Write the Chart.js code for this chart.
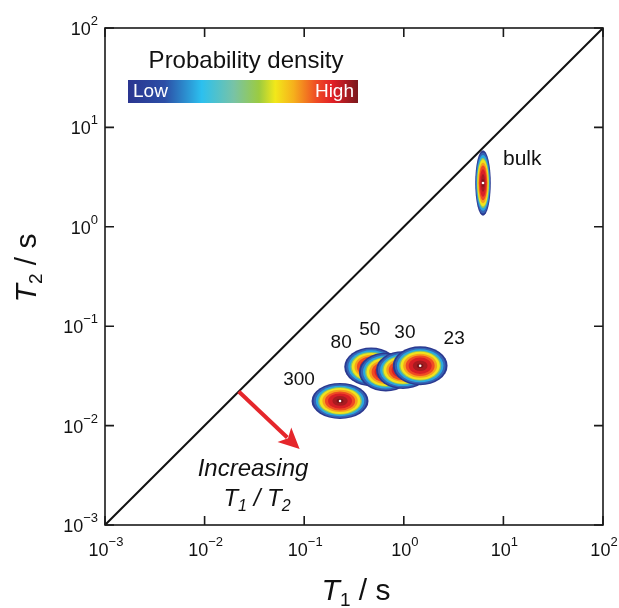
<!DOCTYPE html>
<html>
<head>
<meta charset="utf-8">
<script src="https://cdn.jsdelivr.net/npm/chart.js@4/dist/chart.umd.min.js"></script>
<style>
  html, body { margin: 0; padding: 0; background: #fff; }
  #wrap { width: 619px; height: 608px; }
</style>
</head>
<body>
<div id="wrap"><canvas id="c" width="619" height="608"></canvas></div>
<script>
// Axis range (seconds) and decade tick exponents
const axisMin = 1e-3;
const axisMax = 1e2;
const tickExponents = [-3, -2, -1, 0, 1, 2];

// Relaxation-time distributions: sample label, peak T1 / T2 (s),
// and half-width of each distribution in decades (T1, T2)
const samples  = ['80', '50', '30', '23', '300', 'bulk'];
const t1Peak   = [0.47, 0.66, 0.98, 1.46, 0.229, 6.24];
const t2Peak   = [0.039, 0.0346, 0.0362, 0.040, 0.0177, 2.76];
const t1Spread = [0.27, 0.27, 0.27, 0.275, 0.286, 0.078];
const t2Spread = [0.195, 0.195, 0.19, 0.195, 0.181, 0.33];

// T1 = T2 reference line
const unityT = [1e-3, 1e2];

// Arrow pointing toward increasing T1/T2
const arrowT1 = [0.022, 0.09];
const arrowT2 = [0.022, 0.0058];

// ---- styling ----
const FONT = '"Liberation Sans", Arial, Helvetica, sans-serif';
const bandColors = ['#2b3990', '#3563b5', '#2aa8df', '#86c56a', '#f1e41c', '#f7a11c', '#ef4a24', '#d81f26', '#a81b20', '#7d1519'];
const bandRadii  = [1.0, 0.93, 0.85, 0.77, 0.72, 0.62, 0.53, 0.42, 0.27, 0.12];
// label placement relative to each distribution peak (px): dx, dy, align
const labelOffsets = [[-30, -19, 'center'], [-16, -37, 'center'], [2, -32, 'center'], [34, -22, 'center'], [-41, -16, 'center'], [20, -18, 'left']];

function drawRun(ctx, parts, x, y, align) {
  let w = 0;
  parts.forEach(p => { ctx.font = p.font; p.w = ctx.measureText(p.t).width; w += p.w; });
  let sx = align === 'center' ? x - w / 2 : align === 'right' ? x - w : x;
  ctx.textAlign = 'left';
  ctx.textBaseline = 'alphabetic';
  parts.forEach(p => { ctx.font = p.font; ctx.fillText(p.t, sx, y + (p.dy || 0)); sx += p.w; });
}

function expParts(e) {
  const s = e < 0 ? '\u2212' + Math.abs(e) : String(e);
  return [{ t: '10', font: '18px ' + FONT }, { t: s, font: '13px ' + FONT, dy: -10 }];
}

const decorPlugin = {
  id: 'decor',
  beforeDatasetsDraw(chart) {
    const { ctx, chartArea: a } = chart;
    const xs = chart.scales.x, ys = chart.scales.y;
    ctx.save();
    ctx.beginPath();
    ctx.rect(a.left, a.top, a.right - a.left, a.bottom - a.top);
    ctx.clip();
    for (let i = 0; i < samples.length; i++) {
      const cx = xs.getPixelForValue(t1Peak[i]);
      const cy = ys.getPixelForValue(t2Peak[i]);
      const rx = (xs.getPixelForValue(t1Peak[i] * Math.pow(10, t1Spread[i])) - xs.getPixelForValue(t1Peak[i] / Math.pow(10, t1Spread[i]))) / 2;
      const ry = (ys.getPixelForValue(t2Peak[i] / Math.pow(10, t2Spread[i])) - ys.getPixelForValue(t2Peak[i] * Math.pow(10, t2Spread[i]))) / 2;
      for (let k = 0; k < bandColors.length; k++) {
        ctx.beginPath();
        ctx.ellipse(cx, cy, rx * bandRadii[k], ry * bandRadii[k], 0, 0, Math.PI * 2);
        ctx.fillStyle = bandColors[k];
        ctx.fill();
      }
      ctx.beginPath();
      ctx.arc(cx, cy, 1.3, 0, Math.PI * 2);
      ctx.fillStyle = '#ffffff';
      ctx.fill();
    }
    ctx.restore();
  },
  afterDatasetsDraw(chart) {
    const { ctx } = chart;
    const xs = chart.scales.x, ys = chart.scales.y;
    // arrow
    const x0 = xs.getPixelForValue(arrowT1[0]), y0 = ys.getPixelForValue(arrowT2[0]);
    const x1 = xs.getPixelForValue(arrowT1[1]), y1 = ys.getPixelForValue(arrowT2[1]);
    const len = Math.hypot(x1 - x0, y1 - y0);
    const ux = (x1 - x0) / len, uy = (y1 - y0) / len;
    const px = -uy, py = ux;
    const hl = 21, hw = 10;
    ctx.save();
    ctx.strokeStyle = '#e5262b';
    ctx.fillStyle = '#e5262b';
    ctx.lineWidth = 4;
    ctx.lineCap = 'butt';
    ctx.beginPath();
    ctx.moveTo(x0, y0);
    ctx.lineTo(x1 - ux * (hl - 4), y1 - uy * (hl - 4));
    ctx.stroke();
    ctx.beginPath();
    ctx.moveTo(x1, y1);
    ctx.lineTo(x1 - ux * hl + px * hw, y1 - uy * hl + py * hw);
    ctx.lineTo(x1 - ux * (hl - 5), y1 - uy * (hl - 5));
    ctx.lineTo(x1 - ux * hl - px * hw, y1 - uy * hl - py * hw);
    ctx.closePath();
    ctx.fill();
    ctx.restore();
  },
  afterDraw(chart) {
    const { ctx, chartArea: a } = chart;
    const xs = chart.scales.x, ys = chart.scales.y;
    ctx.save();
    // frame
    ctx.strokeStyle = '#1a1a1a';
    ctx.lineWidth = 1.6;
    ctx.strokeRect(a.left, a.top, a.right - a.left, a.bottom - a.top);
    // inward ticks on all sides
    const tl = 9;
    ctx.beginPath();
    tickExponents.forEach(e => {
      const v = Math.pow(10, e);
      const tx = xs.getPixelForValue(v), ty = ys.getPixelForValue(v);
      ctx.moveTo(tx, a.bottom); ctx.lineTo(tx, a.bottom - tl);
      ctx.moveTo(tx, a.top); ctx.lineTo(tx, a.top + tl);
      ctx.moveTo(a.left, ty); ctx.lineTo(a.left + tl, ty);
      ctx.moveTo(a.right, ty); ctx.lineTo(a.right - tl, ty);
    });
    ctx.stroke();
    // tick labels
    ctx.fillStyle = '#111';
    tickExponents.forEach(e => {
      const v = Math.pow(10, e);
      drawRun(ctx, expParts(e), xs.getPixelForValue(v) + 1, a.bottom + 31, 'center');
      drawRun(ctx, expParts(e), a.left - 7, ys.getPixelForValue(v) + 7, 'right');
    });
    // axis titles
    drawRun(ctx, [
      { t: 'T', font: 'italic 30px ' + FONT },
      { t: '1', font: '19px ' + FONT, dy: 6 },
      { t: ' / s', font: '30px ' + FONT }
    ], (a.left + a.right) / 2 + 2, 600, 'center');
    ctx.save();
    ctx.translate(36, 268);
    ctx.rotate(-Math.PI / 2);
    drawRun(ctx, [
      { t: 'T', font: 'italic 30px ' + FONT },
      { t: '2', font: '19px ' + FONT, dy: 6 },
      { t: ' / s', font: '30px ' + FONT }
    ], 0, 0, 'center');
    ctx.restore();
    // sample labels
    for (let i = 0; i < samples.length; i++) {
      const cx = xs.getPixelForValue(t1Peak[i]);
      const cy = ys.getPixelForValue(t2Peak[i]);
      const o = labelOffsets[i];
      ctx.fillStyle = '#111';
      drawRun(ctx, [{ t: samples[i], font: (samples[i] === 'bulk' ? '21px ' : '19px ') + FONT }], cx + o[0], cy + o[1], o[2]);
    }
    // arrow annotation
    drawRun(ctx, [{ t: 'Increasing', font: 'italic 24px ' + FONT }], 253, 476, 'center');
    drawRun(ctx, [
      { t: 'T', font: 'italic 24px ' + FONT },
      { t: '1', font: 'italic 16px ' + FONT, dy: 5 },
      { t: ' / ', font: 'italic 24px ' + FONT },
      { t: 'T', font: 'italic 24px ' + FONT },
      { t: '2', font: 'italic 16px ' + FONT, dy: 5 }
    ], 257, 506, 'center');
    // colour key
    const bx = 128, by = 80, bw = 230, bh = 23;
    const g = ctx.createLinearGradient(bx, 0, bx + bw, 0);
    g.addColorStop(0.00, '#2a3590');
    g.addColorStop(0.16, '#2c4ea6');
    g.addColorStop(0.32, '#2cc0ef');
    g.addColorStop(0.46, '#78c3a6');
    g.addColorStop(0.57, '#9ccb40');
    g.addColorStop(0.64, '#f2e81a');
    g.addColorStop(0.72, '#f6b01c');
    g.addColorStop(0.82, '#ef4b24');
    g.addColorStop(0.89, '#e11f26');
    g.addColorStop(1.00, '#7a181d');
    ctx.fillStyle = g;
    ctx.fillRect(bx, by, bw, bh);
    ctx.fillStyle = '#111';
    drawRun(ctx, [{ t: 'Probability density', font: '24px ' + FONT }], 246, 68, 'center');
    ctx.fillStyle = '#ffffff';
    drawRun(ctx, [{ t: 'Low', font: '19px ' + FONT }], bx + 5, by + 17, 'left');
    drawRun(ctx, [{ t: 'High', font: '19px ' + FONT }], bx + bw - 4, by + 17, 'right');
    ctx.restore();
  }
};

new Chart(document.getElementById('c'), {
  type: 'scatter',
  data: {
    datasets: [
      {
        label: 'T1 = T2',
        data: unityT.map(t => ({ x: t, y: t })),
        showLine: true,
        borderColor: '#111',
        borderWidth: 2,
        pointRadius: 0
      }
    ]
  },
  options: {
    responsive: false,
    animation: false,
    events: [],
    layout: { padding: { left: 105, right: 16, top: 28, bottom: 83 } },
    scales: {
      x: { type: 'logarithmic', min: axisMin, max: axisMax, display: false },
      y: { type: 'logarithmic', min: axisMin, max: axisMax, display: false }
    },
    plugins: { legend: { display: false }, tooltip: { enabled: false } }
  },
  plugins: [decorPlugin]
});
</script>
</body>
</html>
